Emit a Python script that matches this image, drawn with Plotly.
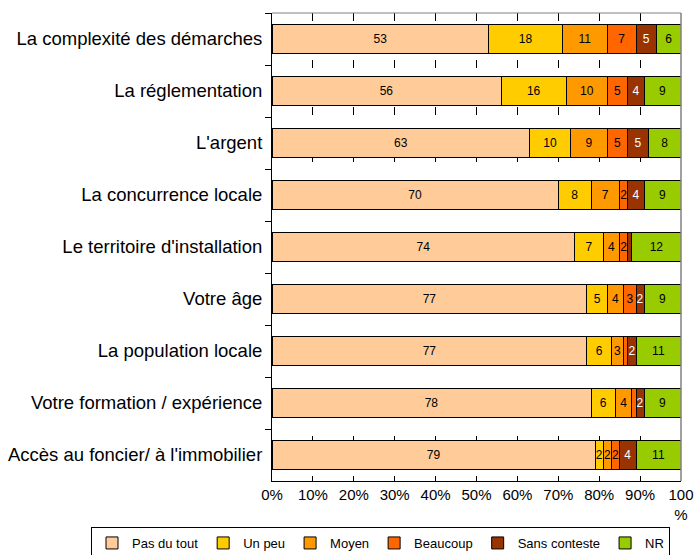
import plotly.graph_objects as go

categories = [
    "La complexité des démarches",
    "La réglementation",
    "L'argent",
    "La concurrence locale",
    "Le territoire d'installation",
    "Votre âge",
    "La population locale",
    "Votre formation / expérience",
    "Accès au foncier/ à l'immobilier",
]

pas_du_tout = [53, 56, 63, 70, 74, 77, 77, 78, 79]
un_peu = [18, 16, 10, 8, 7, 5, 6, 6, 2]
moyen = [11, 10, 9, 7, 4, 4, 3, 4, 2]
beaucoup = [7, 5, 5, 2, 2, 3, 1, 1, 2]
sans_conteste = [5, 4, 5, 4, 1, 2, 2, 2, 4]
nr = [6, 9, 8, 9, 12, 9, 11, 9, 11]

series = [
    ("Pas du tout", pas_du_tout, "#FFCC99", "#000000"),
    ("Un peu", un_peu, "#FFCC00", "#000000"),
    ("Moyen", moyen, "#FF9900", "#000000"),
    ("Beaucoup", beaucoup, "#FF6600", "#000000"),
    ("Sans conteste", sans_conteste, "#993300", "#FFFFFF"),
    ("NR", nr, "#99CC00", "#000000"),
]

tick_vals = [0, 10, 20, 30, 40, 50, 60, 70, 80, 90, 100]
tick_text = ["0%", "10%", "20%", "30%", "40%", "50%", "60%", "70%", "80%", "90%", "100<br>%"]

FONT = "Liberation Sans, Arial, sans-serif"

fig = go.Figure()
for name, vals, color, tcolor in series:
    fig.add_trace(go.Bar(
        name=name,
        y=categories,
        x=vals,
        orientation="h",
        marker=dict(color=color, line=dict(color="#000000", width=1)),
        text=[str(v) if v > 1 else "" for v in vals],
        textposition="inside",
        insidetextanchor="middle",
        textangle=0,
        textfont=dict(color=tcolor, size=12, family=FONT),
        hoverinfo="skip",
    ))

fig.update_layout(
    barmode="stack",
    bargap=0.46,
    width=696,
    height=555,
    margin=dict(l=272, r=15, t=13, b=74, autoexpand=False),
    paper_bgcolor="white",
    plot_bgcolor="white",
    font=dict(family=FONT, color="#000000"),
    uniformtext=dict(minsize=12, mode="show"),
    showlegend=True,
    legend=dict(
        orientation="h",
        x=(91 - 272) / 409,
        xanchor="left",
        y=(481 - 527) / 468,
        yanchor="top",
        bgcolor="white",
        bordercolor="#000000",
        borderwidth=1,
        font=dict(size=13, family=FONT),
        traceorder="normal",
    ),
    xaxis=dict(
        range=[0, 100],
        tickvals=tick_vals,
        ticktext=tick_text,
        ticks="inside",
        ticklen=5,
        tickcolor="#000000",
        showline=True,
        linecolor="#000000",
        linewidth=1,
        showgrid=True,
        gridcolor="#000000",
        gridwidth=1,
        griddash="8px,39px",
        zeroline=False,
        tickfont=dict(size=15, family=FONT),
        automargin=False,
        fixedrange=True,
    ),
    yaxis=dict(
        autorange="reversed",
        ticks="outside",
        tickson="boundaries",
        ticklen=6,
        tickcolor="#000000",
        showline=True,
        linecolor="#000000",
        linewidth=1,
        showgrid=False,
        tickfont=dict(size=18.5, family=FONT),
        ticklabelstandoff=5,
        automargin=False,
        fixedrange=True,
    ),
    shapes=[
        dict(type="line", xref="paper", yref="paper", x0=1, x1=1, y0=0, y1=1,
             line=dict(color="#808080", width=1.5), layer="above"),
        dict(type="line", xref="paper", yref="paper", x0=0, x1=1, y0=1, y1=1,
             line=dict(color="#808080", width=1), layer="above"),
    ],
)

fig.write_html(
    "out.html",
    config={"displayModeBar": False, "staticPlot": True},
    post_script="document.body.style.margin='0';document.body.style.overflow='hidden';",
)
